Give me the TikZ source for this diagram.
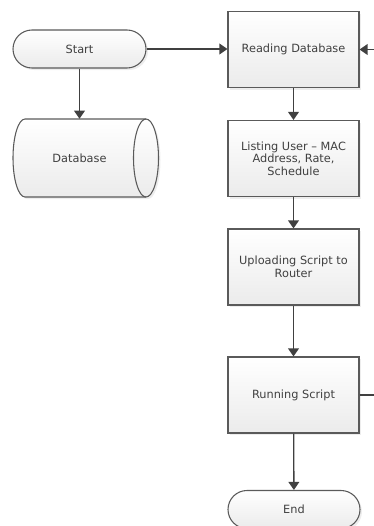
\documentclass[tikz,border=0pt]{standalone}
\usepackage{fontspec}
\setmainfont{DejaVu Sans}
\usetikzlibrary{arrows.meta,shadows}
\definecolor{linec}{HTML}{404040}
\definecolor{bordc}{HTML}{5A5A5A}
\definecolor{txtc}{HTML}{404040}
\definecolor{botc}{HTML}{EBEBEB}
\tikzset{
 shapefill/.style={draw=bordc, line width=0.8pt, top color=white, bottom color=botc,
   drop shadow={shadow xshift=1.5pt, shadow yshift=-1.5pt, fill=black, opacity=0.07}},
 procbox/.style={shapefill, minimum width=98.25pt, minimum height=57pt, inner sep=2pt,
   align=center, text=txtc, font=\fontsize{8.5}{9.5}\selectfont},
 termbox/.style={procbox, rounded corners=14.25pt, minimum height=28.5pt},
 flow/.style={draw=linec, line width=1pt, -{Triangle[length=6pt,width=8pt]}},
}
\begin{document}
\begin{tikzpicture}[x=0.75pt,y=-0.75pt]
\clip (0,0) rectangle (374,526);
% database shape
\path[shapefill] (25,119) -- (146,119)
  arc[start angle=90, end angle=-90, x radius=9.375pt, y radius=29.25pt]
  -- (25,197)
  arc[start angle=270, end angle=90, x radius=9pt, y radius=29.25pt] -- cycle;
\draw[bordc, line width=0.8pt] (146,197)
  arc[start angle=270, end angle=90, x radius=9.375pt, y radius=29.25pt];
\node[minimum width=108.75pt, minimum height=58.5pt, inner sep=0pt, text=txtc,
  font=\fontsize{8.5}{9.5}\selectfont] (db) at (79.5,158) {Database};

\node[termbox, minimum width=99.75pt] (start) at (79.5,49) {Start};
\node[procbox] (reading) at (293.5,49.5) {Reading Database};
\node[procbox] (listing) at (293.5,158.5) {Listing User -- MAC\\Address, Rate,\\Schedule};
\node[procbox] (upload) at (293.5,267) {Uploading Script to\\Router};
\node[procbox] (running) at (293.5,395) {Running Script};
\node[termbox, minimum width=99pt] (end) at (294,509.5) {End};

\draw[flow] (start.east) -- (start.east -| reading.west);
\draw[flow] (start.south) -- (db.north);
\draw[flow] (reading) -- (listing);
\draw[flow] (listing) -- (upload);
\draw[flow] (upload) -- (running);
\draw[flow] (running) -- (end);
\draw[flow] (running.east) -- ++(20,0) |- (reading.east);
\end{tikzpicture}
\end{document}
